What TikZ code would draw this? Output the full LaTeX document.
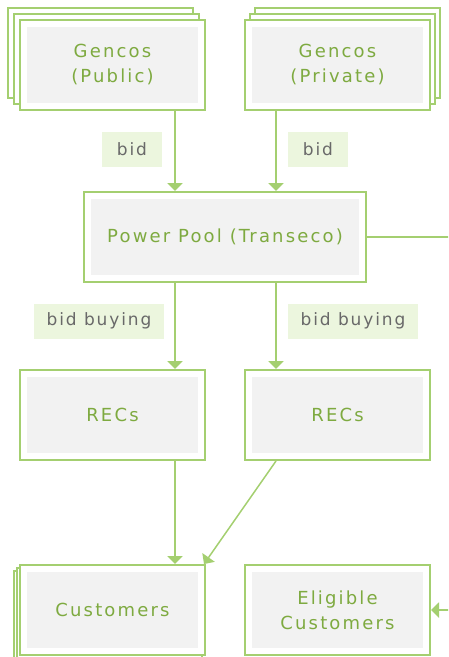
\documentclass[tikz,border=0pt]{standalone}
\usepackage{fontspec}
\setmainfont{DejaVu Sans}
\newfontfamily\boxfam{DejaVu Sans}[LetterSpace=12]
\newfontfamily\lblfam{DejaVu Sans}[LetterSpace=11]
\usetikzlibrary{arrows.meta,shadows}
\definecolor{grn}{RGB}{164,207,112}
\definecolor{txtgrn}{RGB}{126,170,64}
\definecolor{lblfill}{RGB}{236,246,222}
\definecolor{lbltxt}{RGB}{105,105,105}
\definecolor{boxgray}{RGB}{242,242,242}

\begin{document}
\begin{tikzpicture}[x=1pt,y=-1pt,
  box/.style={draw=grn, line width=2pt, fill=white, minimum width=185pt, minimum height=90pt,
    inner sep=0pt, text=txtgrn, align=center, font={\boxfam\fontsize{18}{25}\selectfont},
    path picture={\fill[boxgray] ([shift={(7pt,-7pt)}]path picture bounding box.north west)
      rectangle ([shift={(-7pt,7pt)}]path picture bounding box.south east);}},
  lbl/.style={fill=lblfill, text=lbltxt, minimum height=35pt, inner sep=0pt,
    font={\lblfam\fontsize{17}{20}\selectfont}},
  arr/.style={draw=grn, line width=2pt, -{Triangle[width=15pt,length=8pt]}},
  ln/.style={draw=grn, line width=1.5pt, -{Triangle[width=15pt,length=8pt]}}]
\useasboundingbox (0,0) rectangle (448,657);
\clip (0,0) rectangle (448,657);

% suppliers
\node[box, copy shadow={shadow xshift=-12pt, shadow yshift=12pt, draw=grn, line width=2pt},
  copy shadow={shadow xshift=-6pt, shadow yshift=6pt, draw=grn, line width=2pt}]
  (gpub) at (112.5,65) {Gencos\\(Public)};
\node[box, copy shadow={shadow xshift=10pt, shadow yshift=12pt, draw=grn, line width=2pt},
  copy shadow={shadow xshift=5pt, shadow yshift=6pt, draw=grn, line width=2pt}]
  (gpriv) at (337.5,65) {Gencos\\(Private)};

\node[box, minimum width=282pt] (pool) at (225,237) {Power Pool (Transeco)};

\node[box] (recl) at (112.5,415) {RECs};
\node[box] (recr) at (337.5,415) {RECs};

\node[box, copy shadow={shadow xshift=-6pt, shadow yshift=-6pt, draw=grn, line width=2pt},
  copy shadow={shadow xshift=-3pt, shadow yshift=-3pt, draw=grn, line width=2pt}]
  (cust) at (112.5,610) {Customers};
\node[box] (elig) at (337.5,610) {Eligible\\Customers};

% labels
\node[lbl, minimum width=60pt] (bidl) at (132,149) {bid};
\node[lbl, minimum width=60pt] (bidr) at (318,149) {bid};
\node[lbl, minimum width=130pt] (buyl) at (99,321) {bid buying};
\node[lbl, minimum width=130pt] (buyr) at (353,321) {bid buying};

% flows
\coordinate (lx) at (175,0);
\coordinate (rx) at (276,0);
\coordinate (edge) at (470,0);
\draw[arr] (gpub.south -| lx) -- (pool.north -| lx);
\draw[arr] (gpriv.south -| rx) -- (pool.north -| rx);
\draw[arr] (pool.south -| lx) -- (recl.north -| lx);
\draw[arr] (pool.south -| rx) -- (recr.north -| rx);
\draw[arr] (recl.south -| lx) -- (cust.north -| lx);
\draw[ln] (recr.south -| rx) -- ([xshift=-2pt]cust.north east);
\draw[arr] (pool.east) -- (pool.east -| edge) |- (elig.east);
\end{tikzpicture}
\end{document}
